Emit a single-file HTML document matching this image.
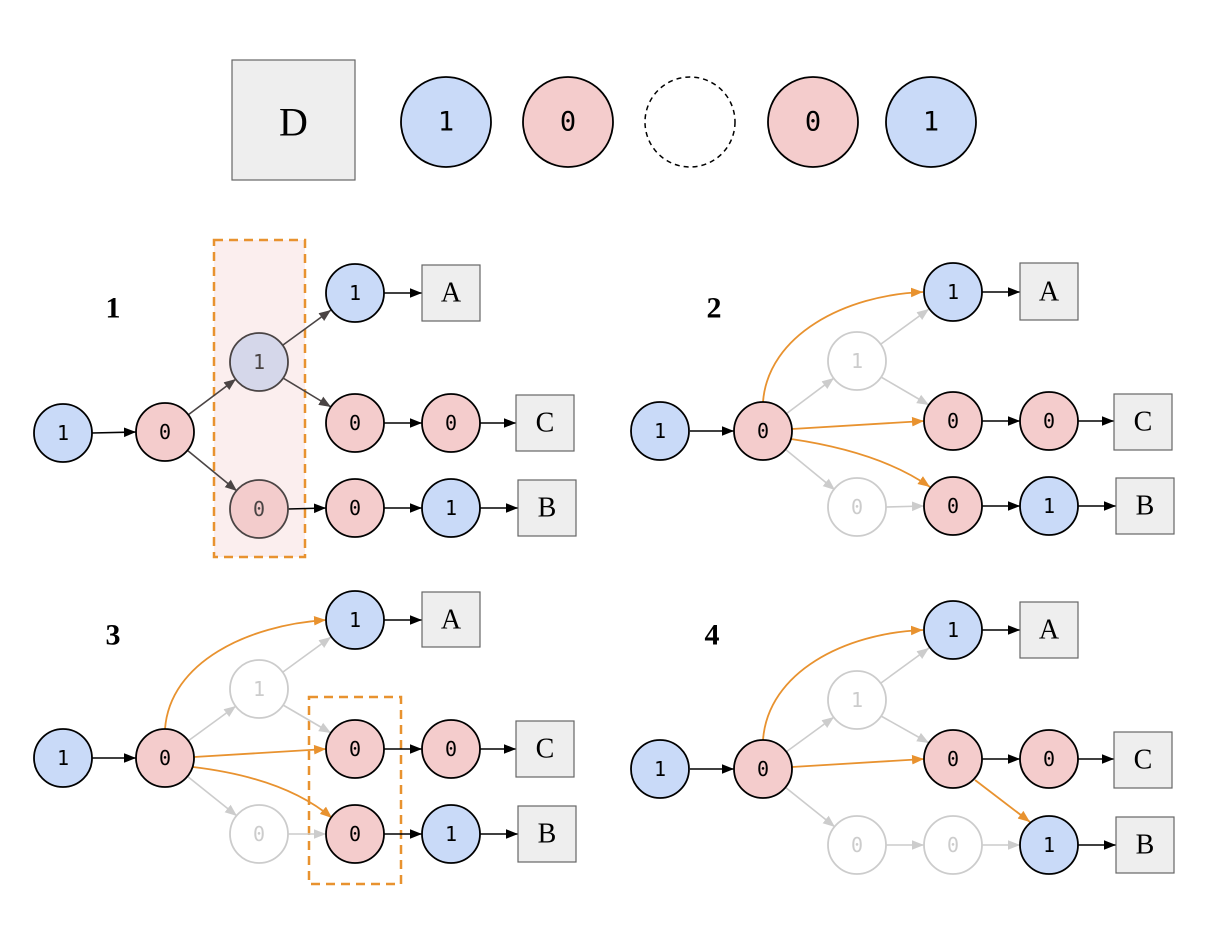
<!DOCTYPE html>
<html><head><meta charset="utf-8"><style>
html,body{margin:0;padding:0;background:#fff;}
svg{display:block}
.b{fill:#c9daf8;stroke:#000;stroke-width:1.8}
.r{fill:#f4cccc;stroke:#000;stroke-width:1.8}
.f{fill:#fff;stroke:#ccc;stroke-width:1.8}
.bx{fill:#eeeeee;stroke:#666;stroke-width:1.2}
.m{font-family:"DejaVu Sans Mono","Liberation Mono",monospace;font-size:20px;text-anchor:middle;dominant-baseline:central;fill:#000}
.mf{font-family:"DejaVu Sans Mono","Liberation Mono",monospace;font-size:20px;text-anchor:middle;dominant-baseline:central;fill:#ccc}
.s{font-family:"Liberation Serif",serif;font-size:28px;text-anchor:middle;dominant-baseline:central;fill:#000}
.lb{font-family:"Liberation Serif",serif;font-size:30px;font-weight:bold;text-anchor:middle;dominant-baseline:central}
.k{stroke:#000;stroke-width:1.6;fill:none;marker-end:url(#ak)}
.d{stroke:#4a4444;stroke-width:1.6;fill:none;marker-end:url(#ad)}
.g{stroke:#ccc;stroke-width:1.6;fill:none;marker-end:url(#ag)}
.o{stroke:#e8922f;stroke-width:1.8;fill:none;marker-end:url(#ao)}
</style></head><body>
<svg width="1209" height="945" viewBox="0 0 1209 945" xmlns="http://www.w3.org/2000/svg">
<defs>
<marker id="ak" viewBox="0 0 10 10" refX="10" refY="5" markerWidth="12" markerHeight="12" markerUnits="userSpaceOnUse" orient="auto"><path d="M0,1L10,5L0,9z" fill="#000"/></marker>
<marker id="ad" viewBox="0 0 10 10" refX="10" refY="5" markerWidth="12" markerHeight="12" markerUnits="userSpaceOnUse" orient="auto"><path d="M0,1L10,5L0,9z" fill="#4a4444"/></marker>
<marker id="ag" viewBox="0 0 10 10" refX="10" refY="5" markerWidth="12" markerHeight="12" markerUnits="userSpaceOnUse" orient="auto"><path d="M0,1L10,5L0,9z" fill="#ccc"/></marker>
<marker id="ao" viewBox="0 0 10 10" refX="10" refY="5" markerWidth="12" markerHeight="12" markerUnits="userSpaceOnUse" orient="auto"><path d="M0,1L10,5L0,9z" fill="#e8922f"/></marker>
</defs>

<!-- top row -->
<rect x="232" y="60" width="123" height="120" class="bx"/>
<text x="293.5" y="122" class="s" style="font-size:40px">D</text>
<circle cx="446" cy="122" r="45" class="b"/><text x="446" y="122" class="m" style="font-size:27px">1</text>
<circle cx="568" cy="122" r="45" class="r"/><text x="568" y="122" class="m" style="font-size:27px">0</text>
<circle cx="690" cy="122" r="45" fill="#fff" stroke="#000" stroke-width="1.5" stroke-dasharray="5,4"/>
<circle cx="813" cy="122" r="45" class="r"/><text x="813" y="122" class="m" style="font-size:27px">0</text>
<circle cx="931" cy="122" r="45" class="b"/><text x="931" y="122" class="m" style="font-size:27px">1</text>

<!-- PANEL 1 -->
<text x="113" y="308" class="lb">1</text>
<rect x="214" y="240" width="91" height="317" fill="#fbeeee" stroke="#e8922f" stroke-width="2.5" stroke-dasharray="9,6"/>
<line x1="92" y1="433" x2="136" y2="432" class="k"/>
<line x1="188" y1="415" x2="236" y2="379" class="d"/>
<line x1="187" y1="450" x2="237" y2="491" class="d"/>
<line x1="283" y1="345" x2="331" y2="310" class="d"/>
<line x1="283" y1="378" x2="331" y2="407" class="d"/>
<line x1="288" y1="509" x2="326" y2="508" class="k"/>
<line x1="384" y1="293" x2="422" y2="293" class="k"/>
<line x1="384" y1="423" x2="422" y2="423" class="k"/>
<line x1="480" y1="423" x2="516" y2="423" class="k"/>
<line x1="384" y1="508" x2="422" y2="508" class="k"/>
<line x1="480" y1="508" x2="518" y2="508" class="k"/>
<circle cx="63" cy="433" r="29" class="b"/><text x="63" y="433" class="m">1</text>
<circle cx="165" cy="432" r="29" class="r"/><text x="165" y="432" class="m">0</text>
<circle cx="259" cy="362" r="29" fill="#d5d7ea" stroke="#4a4444" stroke-width="1.8"/><text x="259" y="362" class="m" style="fill:#4a4444">1</text>
<circle cx="259" cy="509" r="29" fill="#f3cccc" stroke="#4a4444" stroke-width="1.8"/><text x="259" y="509" class="m" style="fill:#4a4444">0</text>
<circle cx="355" cy="293" r="29" class="b"/><text x="355" y="293" class="m">1</text>
<circle cx="355" cy="423" r="29" class="r"/><text x="355" y="423" class="m">0</text>
<circle cx="451" cy="423" r="29" class="r"/><text x="451" y="423" class="m">0</text>
<circle cx="355" cy="508" r="29" class="r"/><text x="355" y="508" class="m">0</text>
<circle cx="451" cy="508" r="29" class="b"/><text x="451" y="508" class="m">1</text>
<rect x="422" y="265" width="58" height="56" class="bx"/><text x="451" y="293" class="s">A</text>
<rect x="516" y="395" width="58" height="56" class="bx"/><text x="545" y="423" class="s">C</text>
<rect x="518" y="480" width="58" height="56" class="bx"/><text x="547" y="508" class="s">B</text>

<!-- PANEL 2 -->
<text x="714" y="308" class="lb">2</text>
<line x1="690" y1="431" x2="734" y2="431" class="k"/>
<line x1="786" y1="414" x2="834" y2="378" class="g"/>
<line x1="785" y1="449" x2="835" y2="490" class="g"/>
<line x1="881" y1="344" x2="929" y2="309" class="g"/>
<line x1="881" y1="377" x2="929" y2="405" class="g"/>
<line x1="886" y1="507" x2="924" y2="506" class="g"/>
<path d="M763,402 C768,335 845,295 923,292" class="o"/>
<line x1="792" y1="429" x2="924" y2="421" class="o"/>
<path d="M791,439 Q880,452 930,487" class="o"/>
<line x1="982" y1="292" x2="1020" y2="292" class="k"/>
<line x1="982" y1="421" x2="1020" y2="421" class="k"/>
<line x1="1078" y1="421" x2="1114" y2="421" class="k"/>
<line x1="982" y1="506" x2="1020" y2="506" class="k"/>
<line x1="1078" y1="506" x2="1116" y2="506" class="k"/>
<circle cx="660" cy="431" r="29" class="b"/><text x="660" y="431" class="m">1</text>
<circle cx="763" cy="431" r="29" class="r"/><text x="763" y="431" class="m">0</text>
<circle cx="857" cy="361" r="29" class="f"/><text x="857" y="361" class="mf">1</text>
<circle cx="857" cy="507" r="29" class="f"/><text x="857" y="507" class="mf">0</text>
<circle cx="953" cy="292" r="29" class="b"/><text x="953" y="292" class="m">1</text>
<circle cx="953" cy="421" r="29" class="r"/><text x="953" y="421" class="m">0</text>
<circle cx="1049" cy="421" r="29" class="r"/><text x="1049" y="421" class="m">0</text>
<circle cx="953" cy="506" r="29" class="r"/><text x="953" y="506" class="m">0</text>
<circle cx="1049" cy="506" r="29" class="b"/><text x="1049" y="506" class="m">1</text>
<rect x="1020" y="263" width="58" height="57" class="bx"/><text x="1049" y="292" class="s">A</text>
<rect x="1114" y="394" width="58" height="56" class="bx"/><text x="1143" y="422" class="s">C</text>
<rect x="1116" y="478" width="58" height="56" class="bx"/><text x="1145" y="506" class="s">B</text>

<!-- PANEL 3 -->
<text x="113" y="635" class="lb">3</text>
<rect x="309" y="697" width="92" height="187" fill="none" stroke="#e8922f" stroke-width="2.5" stroke-dasharray="9,6"/>
<line x1="92" y1="758" x2="136" y2="758" class="k"/>
<line x1="188" y1="741" x2="236" y2="706" class="g"/>
<line x1="187" y1="776" x2="237" y2="816" class="g"/>
<line x1="283" y1="672" x2="331" y2="637" class="g"/>
<line x1="283" y1="705" x2="331" y2="733" class="g"/>
<line x1="288" y1="834" x2="326" y2="834" class="g"/>
<path d="M165,729 C170,662 248,625 326,620" class="o"/>
<line x1="194" y1="757" x2="326" y2="749" class="o"/>
<path d="M193,767 Q285,778 332,818" class="o"/>
<line x1="384" y1="620" x2="422" y2="620" class="k"/>
<line x1="384" y1="749" x2="422" y2="749" class="k"/>
<line x1="480" y1="749" x2="516" y2="749" class="k"/>
<line x1="384" y1="834" x2="422" y2="834" class="k"/>
<line x1="480" y1="834" x2="518" y2="834" class="k"/>
<circle cx="63" cy="758" r="29" class="b"/><text x="63" y="758" class="m">1</text>
<circle cx="165" cy="758" r="29" class="r"/><text x="165" y="758" class="m">0</text>
<circle cx="259" cy="689" r="29" class="f"/><text x="259" y="689" class="mf">1</text>
<circle cx="259" cy="834" r="29" class="f"/><text x="259" y="834" class="mf">0</text>
<circle cx="355" cy="620" r="29" class="b"/><text x="355" y="620" class="m">1</text>
<circle cx="355" cy="749" r="29" class="r"/><text x="355" y="749" class="m">0</text>
<circle cx="451" cy="749" r="29" class="r"/><text x="451" y="749" class="m">0</text>
<circle cx="355" cy="834" r="29" class="r"/><text x="355" y="834" class="m">0</text>
<circle cx="451" cy="834" r="29" class="b"/><text x="451" y="834" class="m">1</text>
<rect x="422" y="592" width="58" height="55" class="bx"/><text x="451" y="620" class="s">A</text>
<rect x="516" y="721" width="58" height="56" class="bx"/><text x="545" y="749" class="s">C</text>
<rect x="518" y="806" width="58" height="56" class="bx"/><text x="547" y="834" class="s">B</text>

<!-- PANEL 4 -->
<text x="712" y="635" class="lb">4</text>
<line x1="690" y1="769" x2="734" y2="769" class="k"/>
<line x1="786" y1="752" x2="834" y2="717" class="g"/>
<line x1="785" y1="787" x2="835" y2="827" class="g"/>
<line x1="881" y1="683" x2="929" y2="648" class="g"/>
<line x1="881" y1="716" x2="929" y2="743" class="g"/>
<line x1="886" y1="845" x2="924" y2="845" class="g"/>
<line x1="982" y1="845" x2="1020" y2="845" class="g"/>
<path d="M763,740 C768,672 845,633 923,630" class="o"/>
<line x1="792" y1="767" x2="924" y2="759" class="o"/>
<line x1="975" y1="780" x2="1030" y2="822" class="o"/>
<line x1="982" y1="630" x2="1020" y2="630" class="k"/>
<line x1="982" y1="759" x2="1020" y2="759" class="k"/>
<line x1="1078" y1="759" x2="1114" y2="759" class="k"/>
<line x1="1078" y1="845" x2="1116" y2="845" class="k"/>
<circle cx="660" cy="769" r="29" class="b"/><text x="660" y="769" class="m">1</text>
<circle cx="763" cy="769" r="29" class="r"/><text x="763" y="769" class="m">0</text>
<circle cx="857" cy="700" r="29" class="f"/><text x="857" y="700" class="mf">1</text>
<circle cx="857" cy="845" r="29" class="f"/><text x="857" y="845" class="mf">0</text>
<circle cx="953" cy="845" r="29" class="f"/><text x="953" y="845" class="mf">0</text>
<circle cx="953" cy="630" r="29" class="b"/><text x="953" y="630" class="m">1</text>
<circle cx="953" cy="759" r="29" class="r"/><text x="953" y="759" class="m">0</text>
<circle cx="1049" cy="759" r="29" class="r"/><text x="1049" y="759" class="m">0</text>
<circle cx="1049" cy="845" r="29" class="b"/><text x="1049" y="845" class="m">1</text>
<rect x="1020" y="602" width="58" height="56" class="bx"/><text x="1049" y="630" class="s">A</text>
<rect x="1114" y="732" width="58" height="56" class="bx"/><text x="1143" y="760" class="s">C</text>
<rect x="1116" y="817" width="58" height="56" class="bx"/><text x="1145" y="845" class="s">B</text>
</svg>
</body></html>
